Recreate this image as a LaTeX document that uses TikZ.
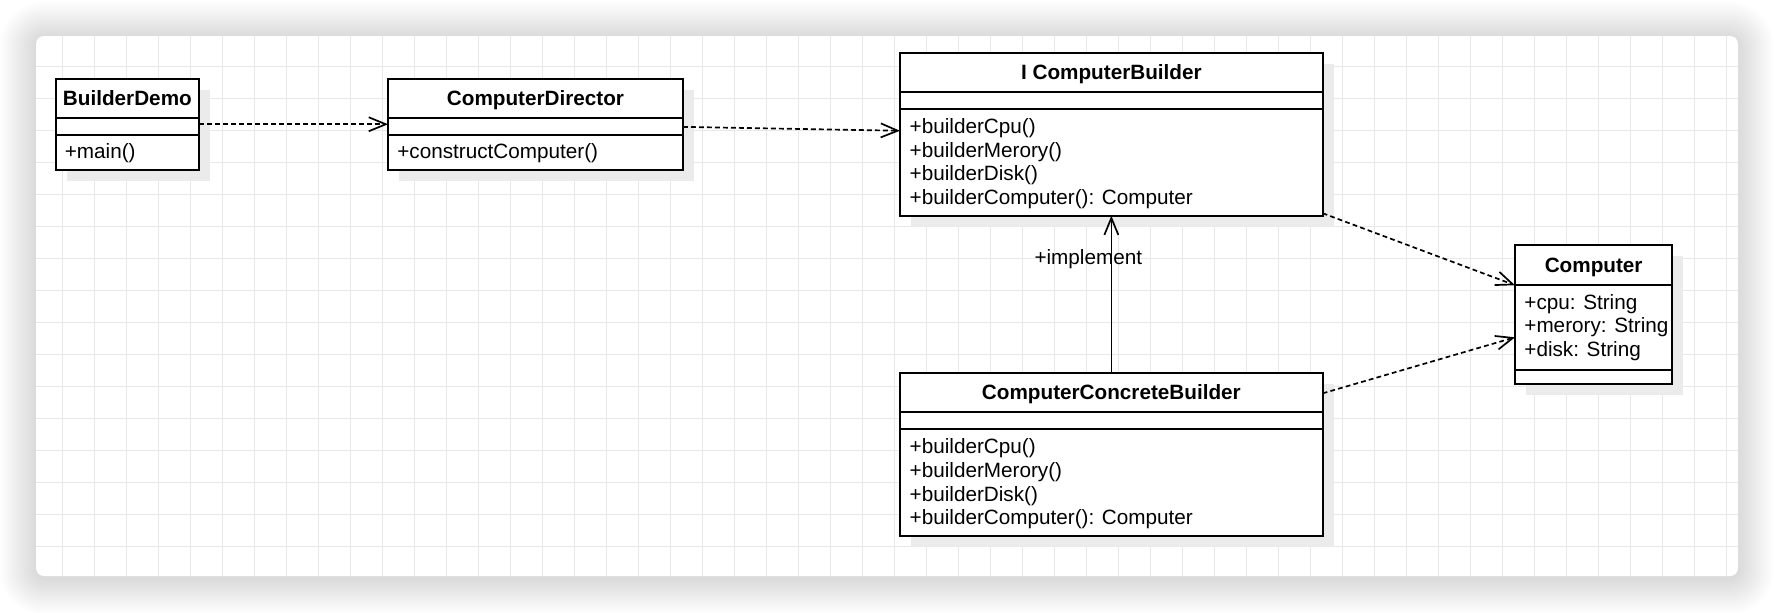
\documentclass[tikz,border=0pt]{standalone}
\usepackage{fontspec}
\setmainfont{Liberation Sans}
\usetikzlibrary{arrows.meta,shadows}
\definecolor{gridgray}{HTML}{E8E8E8}
\definecolor{shadowgray}{HTML}{EBEBEB}
\tikzset{
  classbox/.style={draw=black, line width=1pt, fill=white, inner sep=0pt, outer sep=0pt, rectangle,
    general shadow={fill=shadowgray, shadow xshift=5.5pt, shadow yshift=-5.5pt}},
  sepline/.style={draw=black, line width=1pt},
  member/.style={anchor=west, inner sep=0pt, yshift=-0.75pt, text height=0.75em, text depth=0.25em, font=\fontsize{10.35}{12}\selectfont},
  ctitle/.style={inner sep=0pt, yshift=-0.75pt, text height=0.75em, text depth=0.25em, font=\fontsize{10.35}{12}\selectfont\bfseries},
  dep/.style={draw=black, line width=0.85pt, dash pattern=on 2.4pt off 1.6pt, -{Straight Barb[length=8.5pt,width=7pt]}},
  impl/.style={draw=black, line width=0.85pt, -{Straight Barb[length=8.5pt,width=7pt]}},
}
\begin{document}
\begin{tikzpicture}[x=0.5pt,y=-0.5pt]
\useasboundingbox (0,0) rectangle (1774,612);
\fill[white] (0,0) rectangle (1774,612);
% card shadow
\foreach \e in {2,4,...,36}{
  \pgfmathsetmacro\rr{(8+\e)*0.5}
  \fill[black, opacity=0.0095, rounded corners=\rr pt] (36-\e,36-\e+2) rectangle (1738+\e,576+\e+2);
}
% card
\fill[white, rounded corners=4pt] (36,36) rectangle (1738,576);
\begin{scope}
  \clip[rounded corners=4pt] (36,36) rectangle (1738,576);
  \foreach \x in {62.7,94.7,...,1737}{\draw[gridgray, line width=0.5pt] (\x,36) -- (\x,576);}
  \foreach \y in {66.3,98.3,...,575}{\draw[gridgray, line width=0.5pt] (36,\y) -- (1738,\y);}
\end{scope}

% BuilderDemo
\node[classbox, minimum width=71.9pt, minimum height=45.75pt] (bd) at (127.4,124.25) {};
\draw[sepline] (55.5,118.3) -- (199.3,118.3);
\draw[sepline] (55.5,134.5) -- (199.3,134.5);
\node[ctitle] (bdt) at (127.4,98.5) {BuilderDemo};
\node[member] (bdm) at (64.5,151.7) {+main()};

% ComputerDirector
\node[classbox, minimum width=147.5pt, minimum height=45.75pt] (cd) at (535.5,124.25) {};
\draw[sepline] (388,118.3) -- (683,118.3);
\draw[sepline] (388,134.5) -- (683,134.5);
\node[ctitle] (cdt) at (535.5,98.5) {ComputerDirector};
\node[member] (cdm) at (397,151.7) {+constructComputer()};

% I ComputerBuilder
\node[classbox, minimum width=211.35pt, minimum height=81.2pt] (icb) at (1111.35,134.5) {};
\draw[sepline] (900,92.3) -- (1322.7,92.3);
\draw[sepline] (900,109) -- (1322.7,109);
\node[ctitle] (icbt) at (1111.35,73) {I ComputerBuilder};
\node[member] (icb1) at (909.3,126.6) {+builderCpu()};
\node[member] (icb2) at (909.3,150.5) {+builderMerory()};
\node[member] (icb3) at (909.3,174.4) {+builderDisk()};
\node[member] (icb4) at (909.3,198.3) {+builderComputer(): Computer};

% ComputerConcreteBuilder
\node[classbox, minimum width=211.35pt, minimum height=81.35pt] (ccb) at (1111.35,454.65) {};
\draw[sepline] (900,412.3) -- (1322.7,412.3);
\draw[sepline] (900,429) -- (1322.7,429);
\node[ctitle] (ccbt) at (1111.35,393.3) {ComputerConcreteBuilder};
\node[member] (ccb1) at (909.3,447.3) {+builderCpu()};
\node[member] (ccb2) at (909.3,471) {+builderMerory()};
\node[member] (ccb3) at (909.3,494.7) {+builderDisk()};
\node[member] (ccb4) at (909.3,518.4) {+builderComputer(): Computer};

% Computer
\node[classbox, minimum width=78.65pt, minimum height=69.5pt] (comp) at (1593.65,314.5) {};
\draw[sepline] (1515,285) -- (1672.3,285);
\draw[sepline] (1515,370) -- (1672.3,370);
\node[ctitle] (compt) at (1593.65,265.5) {Computer};
\node[member] (comp1) at (1524,302.7) {+cpu: String};
\node[member] (comp2) at (1524,326.3) {+merory: String};
\node[member] (comp3) at (1524,350) {+disk: String};

% connectors
\draw[dep] (bd) -- (cd);
\draw[dep] (cd) -- (icb);
\draw[dep] (icb) -- (comp);
\draw[dep] (ccb) -- (comp);
\draw[impl] (ccb) -- (icb);
\node[member, anchor=center] (impllabel) at (1088.3,258) {+implement};
\end{tikzpicture}
\end{document}
